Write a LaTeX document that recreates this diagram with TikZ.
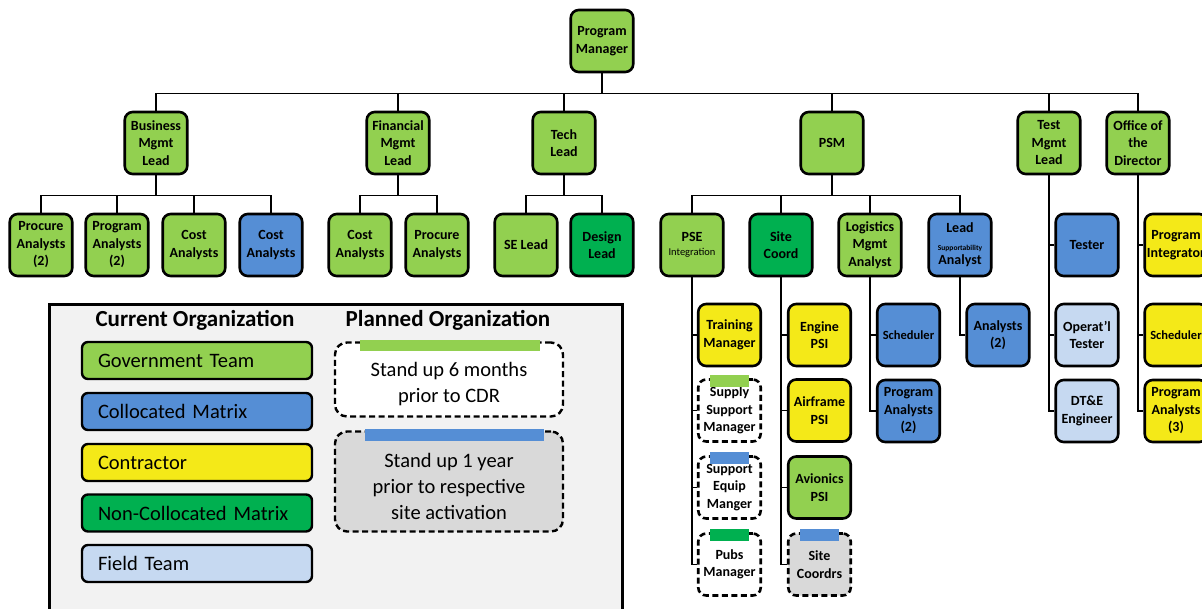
\documentclass[tikz,border=0pt]{standalone}
\usepackage{fontspec}
\setmainfont{Carlito}

\definecolor{cGov}{HTML}{92D050}
\definecolor{cCol}{HTML}{558ED5}
\definecolor{cCon}{HTML}{F4E918}
\definecolor{cNon}{HTML}{00B050}
\definecolor{cFld}{HTML}{C6D9F1}
\definecolor{cPln}{HTML}{D9D9D9}
\definecolor{cBg}{HTML}{F2F2F2}

\tikzset{
  wire/.style={line width=1.3pt},
  box/.style={draw, line width=2.6pt, rounded corners=8pt, minimum width=62.5pt,
    minimum height=62pt, inner sep=1pt, align=center,
    font=\bfseries\fontsize{14}{17.5}\selectfont},
  govbox/.style={box, fill=cGov},
  colbox/.style={box, fill=cCol},
  conbox/.style={box, fill=cCon},
  nonbox/.style={box, fill=cNon},
  fldbox/.style={box, fill=cFld},
  planbox/.style={box, fill=white, dash pattern=on 6pt off 3.5pt},
  keybox/.style={draw, line width=2.4pt, rounded corners=6pt, minimum height=37pt,
    text width=198pt, inner xsep=16pt, align=left, font=\fontsize{20.5}{22}\selectfont},
  keyplan/.style={draw, line width=2.4pt, rounded corners=12pt, minimum width=228pt,
    dash pattern=on 6pt off 3.5pt},
  plantext/.style={align=center, font=\fontsize{20.5}{26}\selectfont},
  hdr/.style={font=\bfseries\fontsize{23}{25}\selectfont}
}

\begin{document}
\begin{tikzpicture}[x=1pt,y=-1pt]
\useasboundingbox (0,0) rectangle (1202,608);

% top levels
\node[govbox] (pm) at (602,41) {Program\\Manager};
\node[govbox] (biz) at (156,143) {Business\\Mgmt\\Lead};
\node[govbox] (fin) at (398,143) {Financial\\Mgmt\\Lead};
\node[govbox] (tech) at (564,143) {Tech\\Lead};
\node[govbox] (psm) at (832,143) {PSM};
\node[govbox] (test) at (1049,143) {Test\\Mgmt\\Lead};
\node[govbox] (odir) at (1138,143) {Office of\\the\\Director};

\node[govbox] (bizpa) at (41,245) {Procure\\Analysts\\(2)};
\node[govbox] (bizpg) at (117,245) {Program\\Analysts\\(2)};
\node[govbox] (bizca) at (194,245) {Cost\\Analysts};
\node[colbox] (bizcb) at (271,245) {Cost\\Analysts};
\node[govbox] (fca) at (360,245) {Cost\\Analysts};
\node[govbox] (fpa) at (437,245) {Procure\\Analysts};
\node[govbox] (se) at (526,245) {SE Lead};
\node[nonbox] (design) at (602,245) {Design\\Lead};
\node[govbox] (pse) at (692,245) {PSE\\[-4pt]{\fontsize{10.5}{12}\selectfont\mdseries Integration}};
\node[nonbox] (site) at (781,245) {Site\\Coord};
\node[govbox] (log) at (870,245) {Logistics\\Mgmt\\Analyst};
\node[colbox] (lsa) at (960,245) {Lead\\[0pt]{\fontsize{7.5}{9}\selectfont Supportability}\\[-3pt]Analyst};
\node[colbox] (tester) at (1087,245) {Tester};
\node[conbox] (pint) at (1176,245) {Program\\Integrator};

% columns
\node[conbox] (train) at (729.5,335) {Training\\Manager};
\node[planbox] (supply) at (729.5,410.5) {Supply\\Support\\Manager};
\node[planbox] (equip) at (729.5,487.5) {Support\\Equip\\Manger};
\node[planbox] (pubs) at (729.5,564.5) {Pubs\\Manager};
\node[conbox] (engine) at (819.5,335) {Engine\\PSI};
\node[conbox] (airframe) at (819.5,410.5) {Airframe\\PSI};
\node[govbox] (avionics) at (819.5,487.5) {Avionics\\PSI};
\node[planbox, fill=cPln] (sitec) at (819.5,564.5) {Site\\Coordrs};
\node[colbox, font=\bfseries\fontsize{12.5}{17}\selectfont] (lsched) at (908.5,335) {Scheduler};
\node[colbox] (lpa) at (908.5,411) {Program\\Analysts\\(2)};
\node[colbox] (lsan) at (998,335) {Analysts\\(2)};
\node[fldbox] (optest) at (1087,335) {Operat'l\\Tester};
\node[fldbox] (dte) at (1087,411) {DT\&E\\Engineer};
\node[conbox, font=\bfseries\fontsize{12.5}{17}\selectfont] (osched) at (1176,335) {Scheduler};
\node[conbox] (opa) at (1176,411) {Program\\Analysts\\(3)};

\fill[cGov] ([xshift=-19.5pt,yshift=3pt]supply.north) rectangle ++(39,12);
\fill[cCol] ([xshift=-19.5pt,yshift=3pt]equip.north) rectangle ++(39,12);
\fill[cNon] ([xshift=-19.5pt,yshift=3pt]pubs.north) rectangle ++(39,12);
\fill[cCol] ([xshift=-19.5pt,yshift=3pt]sitec.north) rectangle ++(39,12);

% connectors
\foreach \c in {biz,fin,tech,psm,test,odir}
  \draw[wire] (pm.south) -- ++(0,20) -| (\c.north);
\foreach \p/\cs in {biz/{bizpa,bizpg,bizca,bizcb}, fin/{fca,fpa}, tech/{se,design}, psm/{pse,site,log,lsa}}
  \foreach \c in \cs
    \draw[wire] (\p.south) -- ++(0,20) -| (\c.north);
\foreach \p/\cs in {pse/{train,supply,equip,pubs}, site/{engine,airframe,avionics,sitec}, log/{lsched,lpa}, lsa/{lsan}, test/{tester,optest,dte}, odir/{pint,osched,opa}}
  \foreach \c in \cs
    \draw[wire] (\p.south) |- (\c.west);

% legend
\draw[line width=3pt, fill=cBg] (49,304) rectangle (622,630);
\node[hdr] (curhdr) at (195,320) {Current Organization};
\node[hdr] (planhdr) at (448,320) {Planned Organization};
\node[keybox, fill=cGov] (kgov) at (197,360.5) {Government Team};
\node[keybox, fill=cCol] (kcol) at (197,411.5) {Collocated Matrix};
\node[keybox, fill=cCon] (kcon) at (197,462.5) {Contractor};
\node[keybox, fill=cNon] (knon) at (197,513) {Non-Collocated Matrix};
\node[keybox, fill=cFld] (kfld) at (197,563.5) {Field Team};
\node[keyplan, fill=white, minimum height=74pt] (ksix) at (449,379.5) {};
\node[keyplan, fill=cPln, minimum height=100pt] (kyear) at (449,481.5) {};
\fill[cGov] ([xshift=-89pt,yshift=1pt]ksix.north) rectangle ++(180,11);
\fill[cCol] ([xshift=-84pt,yshift=1pt]kyear.north) rectangle ++(179,12);
\node[plantext] (tsix) at (449,384) {Stand up 6 months\\prior to CDR};
\node[plantext] (tyear) at (449,486) {Stand up 1 year\\prior to respective\\site activation};
\end{tikzpicture}
\end{document}
